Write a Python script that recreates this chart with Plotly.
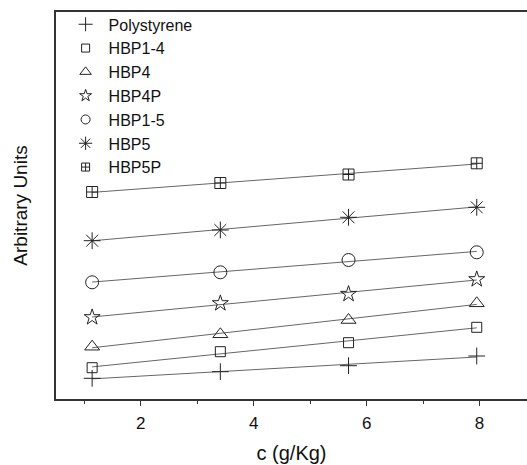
import numpy as np
import plotly.graph_objects as go

conc = [1.14, 3.41, 5.68, 7.95]

names = ["Polystyrene", "HBP1-4", "HBP4", "HBP4P", "HBP1-5", "HBP5", "HBP5P"]
polystyrene = [20.7, 27.3, 33.3, 43.0]
hbp1_4 = [31.3, 47.3, 56.3, 71.7]
hbp4 = [52.3, 64.7, 79.0, 95.7]
hbp4p = [81.7, 95.7, 105.0, 119.7]
hbp1_5 = [116.7, 126.7, 139.0, 146.7]
hbp5 = [158.3, 169.0, 181.7, 191.7]
hbp5p = [207.0, 216.0, 224.5, 235.7]
series = [polystyrene, hbp1_4, hbp4, hbp4p, hbp1_5, hbp5, hbp5p]

symbols = ["cross-thin-open", "square-open", "triangle-up-open", "star-open",
           "circle-open", "asterisk-open", "square-cross-open"]
sizes = [12, 10, 13, 12, 13, 14, 11]
legend_sizes = [10, 8, 10, 9, 9, 11, 8]

fig = go.Figure()
xa = np.array(conc)
for name, ys, sym, sz, lsz in zip(names, series, symbols, sizes, legend_sizes):
    k, b = np.polyfit(xa, np.array(ys), 1)
    fig.add_trace(go.Scatter(
        x=[xa[0], xa[-1]], y=[k * xa[0] + b, k * xa[-1] + b],
        mode="lines", line=dict(color="#666666", width=1),
        showlegend=False, hoverinfo="skip"))
    fig.add_trace(go.Scatter(
        x=conc, y=ys, mode="markers", name=name, showlegend=False,
        marker=dict(symbol=sym, size=sz, color="#222222",
                    line=dict(color="#222222", width=1))))
    # legend-only entry with smaller symbol
    fig.add_trace(go.Scatter(
        x=[None], y=[None], mode="markers", name=name, legendgroup=name,
        marker=dict(symbol=sym, size=lsz, color="#222222",
                    line=dict(color="#222222", width=1))))

fig.update_layout(
    width=527, height=465,
    margin=dict(l=56, r=0, t=12, b=66),
    paper_bgcolor="white", plot_bgcolor="white",
    font=dict(family="Liberation Sans, Arial, sans-serif", color="#111111", size=14),
    legend=dict(x=0.014, y=1.012, xanchor="left", yanchor="top",
                bgcolor="rgba(0,0,0,0)", font=dict(size=16),
                traceorder="grouped", tracegroupgap=0, itemwidth=36),
    xaxis=dict(range=[0.5, 8.84], tick0=0, dtick=2, ticks="outside", ticklen=5,
               tickwidth=1.2, tickcolor="#333333", ticklabelstandoff=3,
               minor=dict(dtick=1, tick0=0, ticks="outside", ticklen=3,
                          tickcolor="#333333"),
               showline=True, linecolor="#333333", linewidth=1.5, mirror=True,
               showgrid=False, zeroline=False,
               tickfont=dict(size=17),
               title=dict(text="c (g/Kg)", font=dict(size=20), standoff=14)),
    yaxis=dict(range=[0, 387], showticklabels=False, ticks="",
               showline=True, linecolor="#333333", linewidth=1.5, mirror=False,
               showgrid=False, zeroline=False,
               title=dict(text="Arbitrary Units", font=dict(size=19), standoff=22)),
)

fig.write_html("out.html")
